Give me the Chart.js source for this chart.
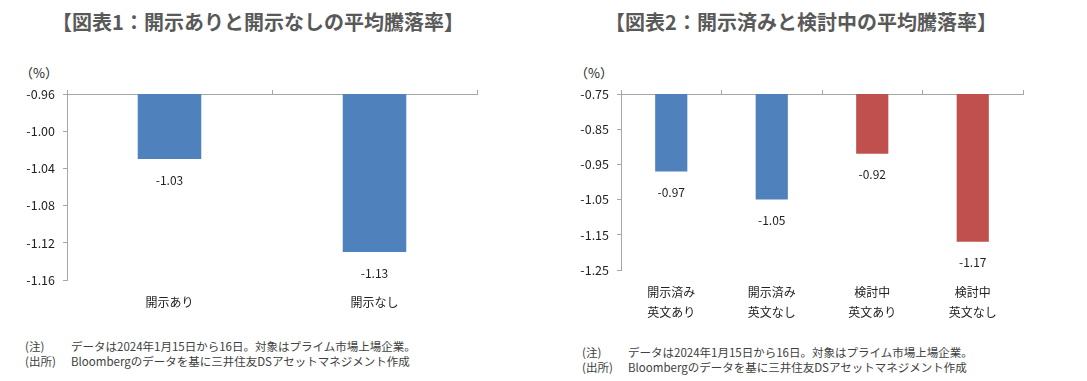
<!DOCTYPE html>
<html>
<head>
<meta charset="utf-8">
<script src="https://cdn.jsdelivr.net/npm/chart.js@4"></script>
<style>
  body { margin: 0; background: #fff; }
  #wrap { position: relative; width: 1087px; height: 381px; overflow: hidden;
    font-family: "Noto Sans CJK JP", "Noto Sans", sans-serif; }
  .title { position: absolute; top: 8px; font-size: 20px; font-weight: bold; color: #595959;
    white-space: nowrap; transform: translateX(-50%); line-height: 28px; }
  .unit { position: absolute; top: 63px; font-size: 13px; color: #222; }
  .box { position: absolute; }
  .note { position: absolute; font-size: 11.5px; color: #404040; line-height: 15px; white-space: nowrap; }
  .note span { display: inline-block; width: 46px; }
</style>
</head>
<body>
<div id="wrap">
  <div class="title" style="left:258px">【図表1：開示ありと開示なしの平均騰落率】</div>
  <div class="title" style="left:801px">【図表2：開示済みと検討中の平均騰落率】</div>
  <div class="unit" style="left:20px">（%）</div>
  <div class="unit" style="left:575px">（%）</div>
  <div class="box" style="left:0px;top:60px;width:500px;height:270px"><canvas id="chart1"></canvas></div>
  <div class="box" style="left:554px;top:60px;width:492px;height:270px"><canvas id="chart2"></canvas></div>
  <div class="note" style="left:25px;top:339px"><span>(注)</span>データは2024年1月15日から16日。対象はプライム市場上場企業。<br><span>(出所)</span>Bloombergのデータを基に三井住友DSアセットマネジメント作成</div>
  <div class="note" style="left:582px;top:345px"><span>(注)</span>データは2024年1月15日から16日。対象はプライム市場上場企業。<br><span>(出所)</span>Bloombergのデータを基に三井住友DSアセットマネジメント作成</div>
</div>
<script>
// Chart 1 data
const labels1 = ["開示あり", "開示なし"];
const values1 = [-1.03, -1.13];
const colors1 = ["#4F81BD", "#4F81BD"];
const yTicks1 = [-0.96, -1.00, -1.04, -1.08, -1.12, -1.16];

// Chart 2 data
const labels2 = [["開示済み", "英文あり"], ["開示済み", "英文なし"], ["検討中", "英文あり"], ["検討中", "英文なし"]];
const values2 = [-0.97, -1.05, -0.92, -1.17];
const colors2 = ["#4F81BD", "#4F81BD", "#C0504D", "#C0504D"];
const yTicks2 = [-0.75, -0.85, -0.95, -1.05, -1.15, -1.25];

const AXIS_COLOR = "#A6A6A6";
const FONT = "'Noto Sans CJK JP', 'Noto Sans', sans-serif";

// value labels under each bar end
const barLabels = {
  id: "barLabels",
  afterDatasetsDraw(chart) {
    const ctx = chart.ctx;
    const ds = chart.data.datasets[0];
    ctx.save();
    ctx.font = "12px " + FONT;
    ctx.fillStyle = "#222";
    ctx.textAlign = "center";
    ctx.textBaseline = "middle";
    chart.getDatasetMeta(0).data.forEach((bar, i) => {
      ctx.fillText(ds.data[i].toFixed(2), bar.x, bar.y + 21);
    });
    ctx.restore();
  },
};

function makeChart(id, labels, values, colors, yTicks, barPct, padBottom, axisHeight) {
  const ctx = document.getElementById(id).getContext("2d");
  return new Chart(ctx, {
    type: "bar",
    data: {
      labels: labels,
      datasets: [
        {
          data: values,
          backgroundColor: colors,
          borderWidth: 0,
          categoryPercentage: 1,
          barPercentage: barPct,
        },
      ],
    },
    options: {
      responsive: true,
      maintainAspectRatio: false,
      animation: false,
      layout: { padding: { top: 30, right: 23, bottom: padBottom, left: 0 } },
      plugins: { legend: { display: false }, tooltip: { enabled: false } },
      scales: {
        x: {
          position: "bottom",
          border: { display: false },
          grid: { display: false, drawTicks: false },
          ticks: {
            color: "#222",
            padding: 12,
            maxRotation: 0,
            autoSkip: false,
            font: { family: FONT, size: 12, lineHeight: 1.7 },
          },
          afterFit: (axis) => { axis.height = axisHeight; },
        },
        xTop: {
          type: "category",
          position: "top",
          labels: labels.map((l, i) => "c" + i),
          border: { display: true, color: AXIS_COLOR, width: 1 },
          grid: { offset: true, drawOnChartArea: false, drawTicks: true, tickLength: 4, color: AXIS_COLOR },
          ticks: { display: false },
          afterFit: (axis) => { axis.height = 4; },
        },
        y: {
          min: yTicks[yTicks.length - 1],
          max: yTicks[0],
          border: { display: true, color: AXIS_COLOR, width: 1 },
          grid: { drawOnChartArea: false, drawTicks: true, tickLength: 4, color: AXIS_COLOR },
          afterBuildTicks: (axis) => { axis.ticks = yTicks.map((v) => ({ value: v })); },
          ticks: {
            color: "#222",
            padding: 8,
            font: { family: FONT, size: 12.5 },
            callback: (value) => Number(value).toFixed(2),
          },
          afterFit: (axis) => { axis.width = 67; },
        },
      },
    },
    plugins: [barLabels],
  });
}

makeChart("chart1", labels1, values1, colors1, yTicks1, 0.31, 10, 40);
makeChart("chart2", labels2, values2, colors2, yTicks2, 0.32, 10, 50);
</script>
</body>
</html>
